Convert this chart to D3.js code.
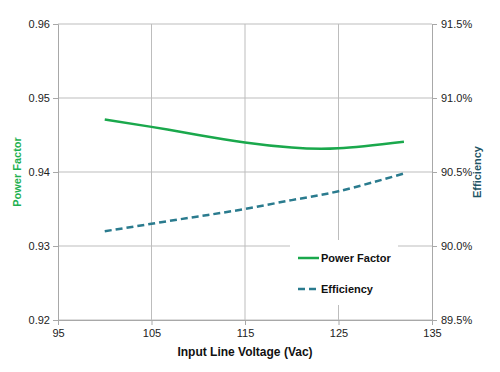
<!DOCTYPE html>
<html>
<head>
<meta charset="utf-8">
<script src="https://cdn.jsdelivr.net/npm/d3@7"></script>
<style>
  body { margin: 0; background: #fff; }
  svg { display: block; font-family: "Liberation Sans", Arial, sans-serif; }
</style>
</head>
<body>
<svg width="500" height="372"></svg>
<script>
const voltage = [100, 105, 110, 115, 120, 125, 132];
const powerFactor = [0.9471, 0.9461, 0.9450, 0.9440, 0.9433, 0.9432, 0.9441];
const efficiency = [90.10, 90.15, 90.20, 90.25, 90.31, 90.37, 90.49];
const xTicks = [95, 105, 115, 125, 135];
const pfTicks = [0.92, 0.93, 0.94, 0.95, 0.96];
const effTicks = [89.5, 90.0, 90.5, 91.0, 91.5];

const svg = d3.select("svg"),
  margin = {top: 24, right: 68, bottom: 52, left: 58},
  width = +svg.attr("width") - margin.left - margin.right,
  height = +svg.attr("height") - margin.top - margin.bottom;

const g = svg.append("g").attr("transform", `translate(${margin.left},${margin.top})`);

const x = d3.scaleLinear().domain([95, 135]).range([0, width]);
const yPf = d3.scaleLinear().domain([0.92, 0.96]).range([height, 0]);
const yEff = d3.scaleLinear().domain([89.5, 91.5]).range([height, 0]);

// grid
g.append("g")
  .selectAll("line")
  .data(pfTicks)
  .join("line")
  .attr("x1", 0).attr("x2", width)
  .attr("y1", d => yPf(d)).attr("y2", d => yPf(d))
  .attr("stroke", "#bdbdbd");

g.append("g")
  .selectAll("line")
  .data(xTicks.slice(1, -1))
  .join("line")
  .attr("x1", d => x(d)).attr("x2", d => x(d))
  .attr("y1", 0).attr("y2", height)
  .attr("stroke", "#bdbdbd");

// axes
const styleAxis = sel => {
  sel.select(".domain").attr("stroke", "#a8a8a8");
  sel.selectAll(".tick line").attr("stroke", "#a8a8a8");
  sel.selectAll("text").attr("fill", "#222").style("font-size", "11px");
};

g.append("g")
  .call(d3.axisLeft(yPf).tickValues(pfTicks).tickSizeOuter(0).tickSize(5).tickPadding(3).tickFormat(d3.format(".2f")))
  .call(styleAxis);

g.append("g")
  .attr("transform", `translate(${width},0)`)
  .call(d3.axisRight(yEff).tickValues(effTicks).tickSizeOuter(0).tickSize(5).tickPadding(4).tickFormat(d => d.toFixed(1) + "%"))
  .call(styleAxis);

g.append("g")
  .attr("transform", `translate(0,${height})`)
  .call(d3.axisBottom(x).tickValues(xTicks).tickSizeOuter(0).tickSize(5).tickPadding(4))
  .call(styleAxis);

// lines
const pfLine = d3.line()
  .x((d, i) => x(voltage[i]))
  .y(d => yPf(d))
  .curve(d3.curveNatural);

const effLine = d3.line()
  .x((d, i) => x(voltage[i]))
  .y(d => yEff(d))
  .curve(d3.curveNatural);

g.append("path")
  .datum(powerFactor)
  .attr("fill", "none")
  .attr("stroke", "#1aa84c")
  .attr("stroke-width", 2.5)
  .attr("d", pfLine);

g.append("path")
  .datum(efficiency)
  .attr("fill", "none")
  .attr("stroke", "#2a7b8e")
  .attr("stroke-width", 2.5)
  .attr("stroke-dasharray", "7,4")
  .attr("d", effLine);

// legend
const legend = svg.append("g").attr("transform", "translate(290,240)");
legend.append("rect")
  .attr("width", 108).attr("height", 65)
  .attr("fill", "#fff");
const items = [
  {name: "Power Factor", color: "#1aa84c", dash: null},
  {name: "Efficiency", color: "#2a7b8e", dash: "7,4"}
];
items.forEach((d, i) => {
  const row = legend.append("g").attr("transform", `translate(0,${18 + i * 31})`);
  row.append("line")
    .attr("x1", 8).attr("x2", 29)
    .attr("stroke", d.color).attr("stroke-width", 2.5)
    .attr("stroke-dasharray", d.dash);
  row.append("text")
    .attr("x", 31).attr("y", 4)
    .style("font-size", "11px").style("font-weight", "bold")
    .attr("fill", "#111")
    .text(d.name);
});

// axis titles
svg.append("text")
  .attr("x", margin.left + width / 2).attr("y", 356)
  .attr("text-anchor", "middle")
  .style("font-size", "12px").style("font-weight", "bold")
  .attr("fill", "#111")
  .text("Input Line Voltage (Vac)");

svg.append("text")
  .attr("transform", `translate(21,${margin.top + height / 2}) rotate(-90)`)
  .attr("text-anchor", "middle")
  .style("font-size", "11px").style("font-weight", "bold")
  .attr("fill", "#1db050")
  .text("Power Factor");

svg.append("text")
  .attr("transform", `translate(481,${margin.top + height / 2}) rotate(-90)`)
  .attr("text-anchor", "middle")
  .style("font-size", "11px").style("font-weight", "bold")
  .attr("fill", "#1f5566")
  .text("Efficiency");
</script>
</body>
</html>
